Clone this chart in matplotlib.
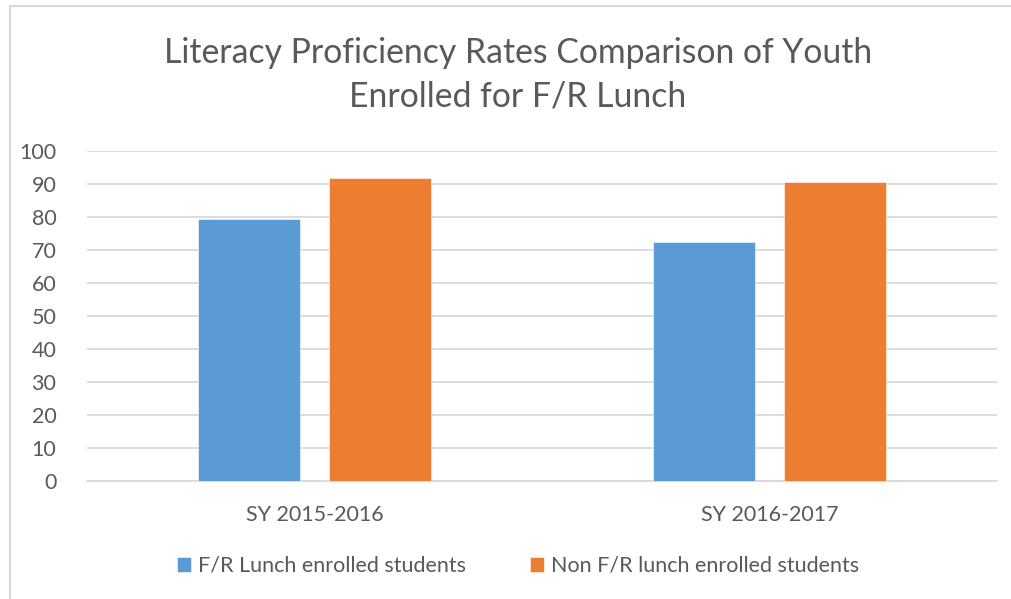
import matplotlib.pyplot as plt
import matplotlib.patches as patches
import numpy as np

plt.rcParams['font.family'] = ['Lato', 'DejaVu Sans']

# data
categories = ['SY 2015-2016', 'SY 2016-2017']
fr_lunch = [79.3, 72.4]
non_fr_lunch = [91.7, 90.6]
series_names = ['F/R Lunch enrolled students', 'Non F/R lunch enrolled students']
yticks = [0, 10, 20, 30, 40, 50, 60, 70, 80, 90, 100]

BLUE = '#5B9BD5'
ORANGE = '#ED7D31'
GRID = '#D9D9D9'
TEXT = '#595959'

fig = plt.figure(figsize=(10.12, 5.99), dpi=100)
ax = fig.add_axes([87 / 1012, 1 - 481 / 599, 910 / 1012, 330 / 599])

x = np.arange(len(categories))
w = 0.224
off = 0.143
ax.bar(x - off, fr_lunch, w, color=BLUE, edgecolor='white', linewidth=0.4,
       label=series_names[0], zorder=3)
ax.bar(x + off, non_fr_lunch, w, color=ORANGE, edgecolor='white', linewidth=0.4,
       label=series_names[1], zorder=3)

ax.set_xlim(-0.5, 1.5)
ax.set_ylim(0, 100)
ax.set_yticks(yticks)
ax.set_xticks(x)
ax.set_xticklabels(categories)
ax.yaxis.grid(True, color=GRID, linewidth=1.3, zorder=0)
ax.set_axisbelow(True)
for s in ['top', 'right', 'left']:
    ax.spines[s].set_visible(False)
ax.spines['bottom'].set_color(GRID)
ax.spines['bottom'].set_linewidth(1.3)
ax.tick_params(axis='both', length=0, labelsize=15.5, labelcolor=TEXT)
ax.tick_params(axis='y', pad=22)
ax.tick_params(axis='x', pad=17)

# title
fig.text(518 / 1012, 1 - 75 / 599,
         'Literacy Proficiency Rates Comparison of Youth\nEnrolled for F/R Lunch',
         ha='center', va='center', fontsize=24.3, color=TEXT, linespacing=1.45)

# legend
fig.legend(loc='center', bbox_to_anchor=(518 / 1012, 1 - 566 / 599), ncol=2,
           frameon=False, fontsize=15.5, labelcolor=TEXT, handlelength=0.65,
           handleheight=0.65, handletextpad=0.3, columnspacing=3.0)

# chart frame (cut off at right/bottom)
frame = patches.Rectangle((10 / 1012, -0.1), 1.2, 1.1 - 6 / 599,
                          transform=fig.transFigure, fill=False,
                          edgecolor=GRID, linewidth=1.5, clip_on=False)
fig.patches.append(frame)

fig.savefig('out.png', dpi=100, facecolor='white')
